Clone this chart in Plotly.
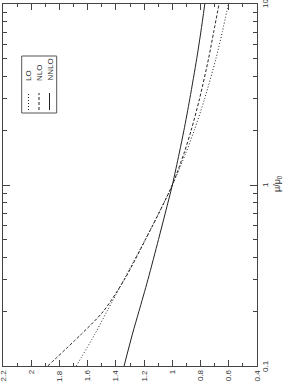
import math
import plotly.graph_objects as go

# scale ratio mu/mu0 (log axis)
mu = [0.1, 0.15, 0.2, 0.3, 0.5, 0.7, 1.0, 1.5, 2.0, 3.0, 5.0, 7.0, 10.0]
lo = [1.681, 1.549, 1.464, 1.343, 1.192, 1.096, 1.0, 0.905, 0.845, 0.771, 0.691, 0.646, 0.603]
nlo = [1.883, 1.645, 1.49, 1.34, 1.19, 1.095, 1.0, 0.917, 0.867, 0.807, 0.743, 0.707, 0.669]
nnlo = [1.342, 1.283, 1.237, 1.173, 1.098, 1.05, 1.0, 0.951, 0.918, 0.876, 0.827, 0.798, 0.77]

val_ticks = [2.2, 2.0, 1.8, 1.6, 1.4, 1.2, 1.0, 0.8, 0.6, 0.4]
val_ticktext = ["2.2", "2", "1.8", "1.6", "1.4", "1.2", "1", "0.8", "0.6", "0.4"]
mu_ticks = [0.1, 1, 10]
mu_ticktext = ["0.1", "1", "10"]
mu_minor = [0.2, 0.3, 0.4, 0.5, 0.6, 0.7, 0.8, 0.9, 2, 3, 4, 5, 6, 7, 8, 9]
series_names = ["LO", "NLO", "NNLO"]
series_dash = ["1px,2px", "3px,2px", "solid"]

W, H = 291, 382
L, R, T, B = 3, 257, 4, 366
FONT = "Liberation Sans, Arial, sans-serif"
TXT = "#333"

def px(x):
    return (x - L) / (R - L)

def py(y):
    return (B - y) / (B - T)

fig = go.Figure()
for name, vals, dash in zip(series_names, [lo, nlo, nnlo], series_dash):
    fig.add_trace(go.Scatter(x=vals, y=mu, mode="lines", name=name,
                             line=dict(color="#222", width=1, dash=dash, shape="spline", smoothing=0.8),
                             showlegend=False, hoverinfo="skip"))

fig.update_layout(
    width=W, height=H,
    margin=dict(l=L, r=W - R, t=T, b=H - B, autoexpand=False),
    paper_bgcolor="white", plot_bgcolor="white",
    font=dict(family=FONT, size=8, color=TXT),
    xaxis=dict(range=[2.2, 0.4], tickvals=val_ticks, showticklabels=False,
               ticks="inside", ticklen=6, tickwidth=1, tickcolor="#444",
               showline=True, linecolor="#444", linewidth=1, mirror="ticks",
               showgrid=False, zeroline=False, automargin=False,
               minor=dict(dtick=0.1, ticks="inside", ticklen=3, tickcolor="#444", showgrid=False)),
    yaxis=dict(type="log", range=[-1, 1], tickvals=mu_ticks, showticklabels=False,
               side="right", ticks="inside", ticklen=7, tickwidth=1, tickcolor="#444",
               showline=True, linecolor="#444", linewidth=1, mirror="ticks",
               showgrid=False, zeroline=False, automargin=False,
               minor=dict(tickvals=mu_minor, ticks="inside", ticklen=4, tickcolor="#444", showgrid=False)),
)

# value-axis tick labels (rotated), below the frame
for v, t in zip(val_ticks, val_ticktext):
    fig.add_annotation(x=v, y=py(367.5), xref="x", yref="paper",
                       xanchor="center", yanchor="top", text=t, textangle=-90,
                       showarrow=False, font=dict(family=FONT, size=8, color=TXT))

# mu-axis tick labels (rotated), right of the frame
for m, t in zip(mu_ticks, mu_ticktext):
    fig.add_annotation(x=px(258.5), y=math.log10(m), xref="paper", yref="y",
                       xanchor="left", yanchor="middle", text=t, textangle=-90,
                       showarrow=False, font=dict(family=FONT, size=8, color=TXT))

# axis title on right
fig.add_annotation(x=px(285.5), y=py(184), xref="paper", yref="paper",
                   text="μ/μ<sub>0</sub>", textangle=-90, showarrow=False,
                   font=dict(family=FONT, size=9, color=TXT))

# legend box (rotated)
fig.add_shape(type="rect", xref="paper", yref="paper",
              x0=px(21.7), x1=px(56.7), y0=py(113), y1=py(56),
              line=dict(color="#555", width=1), fillcolor="white")
leg_x = [28.5, 39.0, 49.5]
for name, dash, lx in zip(series_names, series_dash, leg_x):
    fig.add_shape(type="line", xref="paper", yref="paper",
                  x0=px(lx), x1=px(lx), y0=py(110), y1=py(93),
                  line=dict(color="#222", width=1, dash=dash))
    fig.add_annotation(x=px(lx), y=py(83), xref="paper", yref="paper",
                       xanchor="center", yanchor="bottom",
                       text=name, textangle=-90, showarrow=False,
                       font=dict(family=FONT, size=8, color=TXT))

fig.write_html("out.html", config={"displayModeBar": False},
               post_script="document.body.style.margin='0px';")
